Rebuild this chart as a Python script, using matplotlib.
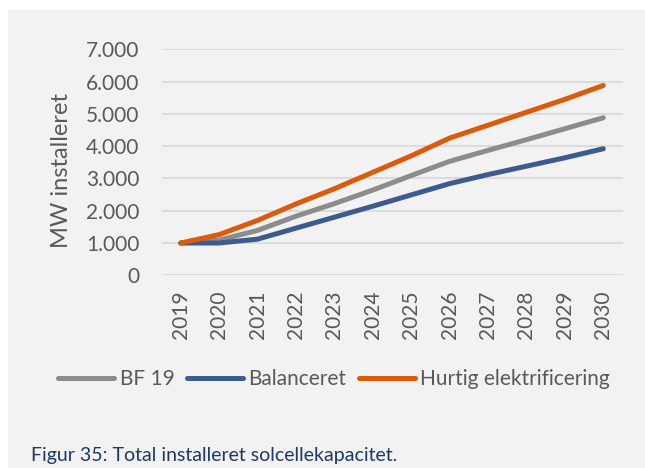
import matplotlib
matplotlib.use("Agg")
import matplotlib.pyplot as plt
from matplotlib.patches import Rectangle

plt.rcParams['font.family'] = ['Lato', 'DejaVu Sans']

years = ["2019", "2020", "2021", "2022", "2023", "2024", "2025", "2026", "2027", "2028", "2029", "2030"]
bf19 = [1000, 1090, 1390, 1830, 2220, 2640, 3090, 3530, 3870, 4200, 4540, 4880]
balanceret = [1000, 1000, 1120, 1460, 1800, 2140, 2490, 2840, 3120, 3380, 3640, 3920]
hurtig = [1000, 1260, 1700, 2210, 2680, 3190, 3700, 4250, 4650, 5050, 5450, 5880]
series_names = ["BF 19", "Balanceret", "Hurtig elektrificering"]
series_colors = ["#8c8c8c", "#3d5b8f", "#dc5a0c"]
yticks = [0, 1000, 2000, 3000, 4000, 5000, 6000, 7000]
ylabel = "MW installeret"
caption = "Figur 35: Total installeret solcellekapacitet."

W, H = 645, 468
fig = plt.figure(figsize=(W / 100, H / 100), dpi=100)
fig.patch.set_facecolor("white")
fig.add_artist(Rectangle((8 / W, 0), 1 - 8 / W, 1 - 10 / H, transform=fig.transFigure,
                         facecolor="#f2f2f2", edgecolor="none", zorder=0))

ax = fig.add_axes([161.5 / W, 1 - 275.3 / H, 461 / W, 226 / H])
ax.set_facecolor("none")
x = list(range(len(years)))
for vals, name, col in zip([bf19, balanceret, hurtig], series_names, series_colors):
    ax.plot(x, vals, color=col, lw=3.6, solid_capstyle="round", solid_joinstyle="round", label=name, zorder=3)

ax.set_xlim(-0.5, len(years) - 0.5)
ax.set_ylim(0, 7000)
ax.set_yticks(yticks)
ax.set_yticklabels([f"{v:,}".replace(",", ".") for v in yticks])
ax.set_xticks(x)
ax.set_xticklabels(years, rotation=90)
for s in ax.spines.values():
    s.set_visible(False)
ax.grid(axis="y", color="#d9d9d9", lw=1.3, zorder=1)
ax.tick_params(axis="both", length=0, labelsize=15, labelcolor="#595959")
ax.tick_params(axis="y", pad=16)
ax.tick_params(axis="x", pad=11)

fig.text(62 / W, 1 - 170 / H, ylabel, rotation=90, ha="center", va="center", fontsize=17, color="#595959")

handles, labels = ax.get_legend_handles_labels()
leg = fig.legend(handles, labels, loc="center", bbox_to_anchor=(334 / W, 1 - 379 / H), ncol=3, frameon=False,
                 fontsize=15, handlelength=2.7, handletextpad=0.25, columnspacing=0.6, labelcolor="#595959")

fig.text(31 / W, 1 - 455 / H, caption, ha="left", va="center", fontsize=14, color="#1f3864")

fig.savefig("out.png", dpi=100)
